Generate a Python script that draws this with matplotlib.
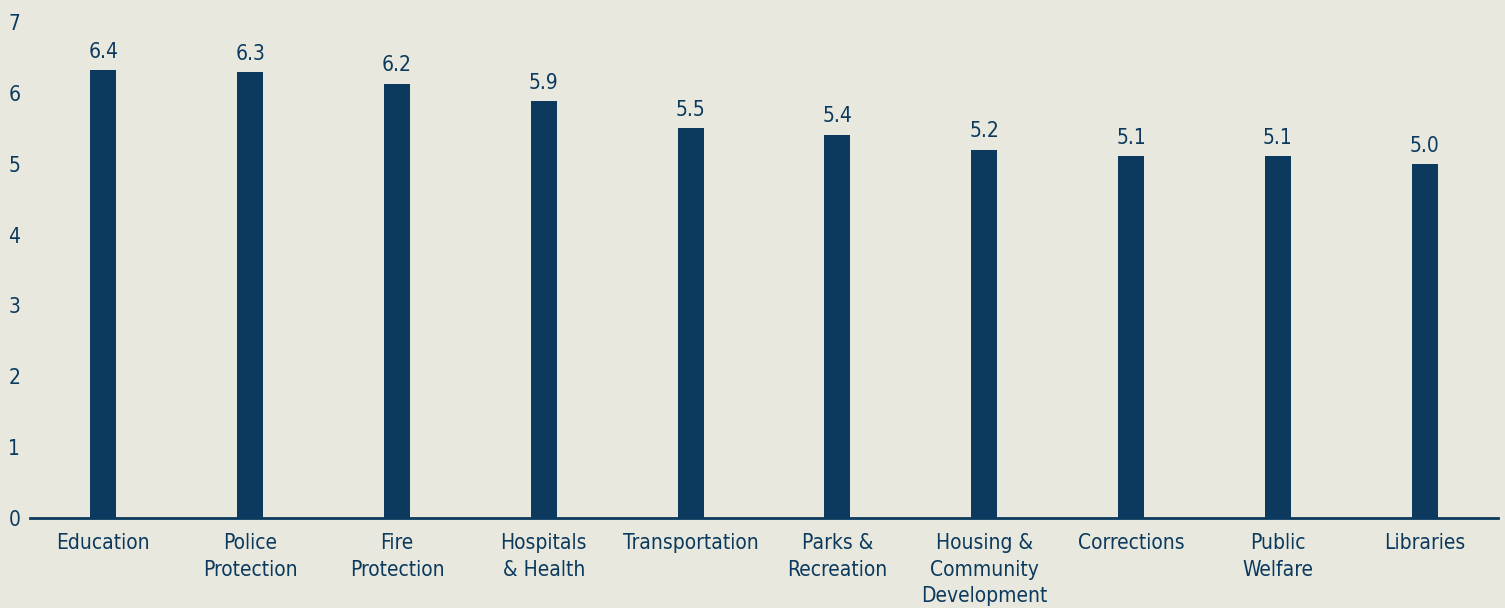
import matplotlib.pyplot as plt

# Data
categories = ["Education", "Police\nProtection", "Fire\nProtection", "Hospitals\n& Health",
              "Transportation", "Parks &\nRecreation", "Housing &\nCommunity\nDevelopment",
              "Corrections", "Public\nWelfare", "Libraries"]
values = [6.32, 6.29, 6.13, 5.88, 5.50, 5.41, 5.20, 5.11, 5.11, 4.99]
value_labels = ["6.4", "6.3", "6.2", "5.9", "5.5", "5.4", "5.2", "5.1", "5.1", "5.0"]
yticks = [0, 1, 2, 3, 4, 5, 6, 7]

navy = "#0B3A5E"
bg = "#E9E8DE"

plt.rcParams['font.family'] = ['DejaVu Sans']
plt.rcParams['font.stretch'] = 'condensed'

fig = plt.figure(figsize=(15.05, 6.08), dpi=100, facecolor=bg)
ax = fig.add_axes([30/1505, (608-518)/608, (1498-30)/1505, (518-22)/608])
ax.set_facecolor(bg)

x = range(len(categories))
bars = ax.bar(x, values, width=0.176, color=navy, zorder=2)

for xi, v, lab in zip(x, values, value_labels):
    ax.annotate(lab, (xi, v), xytext=(0, 6), textcoords='offset points',
                ha='center', va='bottom', fontsize=15, color=navy)

ax.set_xlim(-0.5, 9.5)
ax.set_ylim(0, 7)
ax.set_xticks(list(x))
ax.set_xticklabels(categories, fontsize=15, color=navy, linespacing=1.4)
ax.set_yticks(yticks)
ax.set_yticklabels([str(t) for t in yticks], fontsize=15, color=navy)
ax.tick_params(axis='both', length=0)
ax.tick_params(axis='x', pad=11)
ax.tick_params(axis='y', pad=7)

for s in ['top', 'right', 'left']:
    ax.spines[s].set_visible(False)
ax.spines['bottom'].set_color(navy)
ax.spines['bottom'].set_linewidth(2)

fig.savefig("out.png", dpi=100, facecolor=bg)
